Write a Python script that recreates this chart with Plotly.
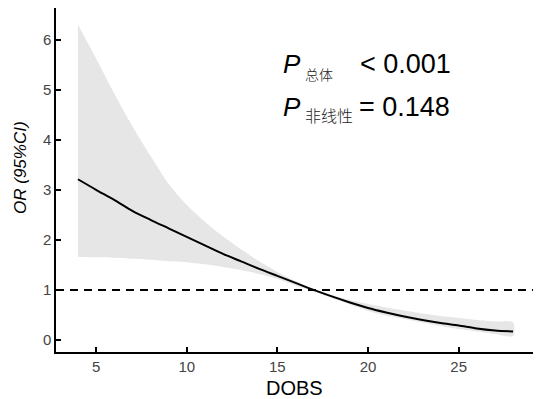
import plotly.graph_objects as go

dobs = [4, 5, 6, 7, 8, 9, 10, 11, 12, 13, 14, 15, 16, 17, 18, 19, 20, 21, 22, 23, 24, 25, 26, 27, 28]
or_est = [3.21, 3.00, 2.80, 2.58, 2.40, 2.23, 2.06, 1.89, 1.72, 1.57, 1.42, 1.28, 1.14, 1.00, 0.87, 0.75, 0.64, 0.55, 0.47, 0.40, 0.34, 0.29, 0.23, 0.19, 0.17]
ci_upper = [6.30, 5.62, 4.92, 4.27, 3.68, 3.12, 2.70, 2.36, 2.07, 1.81, 1.57, 1.36, 1.18, 1.02, 0.90, 0.80, 0.72, 0.65, 0.59, 0.53, 0.48, 0.44, 0.40, 0.37, 0.35]
ci_lower = [1.66, 1.65, 1.64, 1.62, 1.60, 1.57, 1.55, 1.51, 1.46, 1.40, 1.32, 1.22, 1.09, 0.97, 0.84, 0.71, 0.58, 0.49, 0.42, 0.35, 0.28, 0.22, 0.17, 0.12, 0.08]
ref_or = 1
x_ticks = [5, 10, 15, 20, 25]
y_ticks = [0, 1, 2, 3, 4, 5, 6]

FONT = "Liberation Sans, Arial, sans-serif"
CJK = "Noto Sans CJK SC"

fig = go.Figure()
fig.add_trace(go.Scatter(x=dobs + dobs[::-1], y=ci_upper + ci_lower[::-1], fill="toself",
                         fillcolor="#e6e6e6", line=dict(width=0, shape="spline", smoothing=0.8),
                         mode="lines", hoverinfo="skip", showlegend=False))
fig.add_trace(go.Scatter(x=dobs, y=or_est, mode="lines",
                         line=dict(color="black", width=2, shape="spline", smoothing=0.8),
                         showlegend=False))
fig.add_hline(y=ref_or, line=dict(color="black", width=2, dash="8px,6px"))

# page body has an 8px margin: the figure is drawn 8px right/down of the window corner
OFF = 8
W, H = 543 - OFF, 399 - OFF
L, R, T, B = 56 - OFF, 10, 8 - OFF, 47
pw, ph = W - L - R, H - T - B


def px(xp):
    return (xp - OFF - L) / pw


def py(yp):
    return (H - B - (yp - OFF)) / ph


def ann(text, x, y, size, family=FONT, italic=False, color="#000000", weight=None, xanchor="left", angle=0):
    f = dict(size=size, family=family, color=color)
    if weight:
        f["weight"] = weight
    fig.add_annotation(text=f"<i>{text}</i>" if italic else text, xref="paper", yref="paper",
                       x=px(x), y=py(y), xanchor=xanchor, yanchor="middle", showarrow=False,
                       font=f, borderpad=0, textangle=angle)


ann("P", 282, 64, 26, italic=True)
ann("总体", 304, 74, 14, family=CJK, color="#222222", weight=300)
ann("< 0.001", 359, 64, 27)
ann("P", 282, 107, 26, italic=True)
ann("非线性", 304, 115, 16, family=CJK, color="#222222", weight=300)
ann("= 0.148", 358, 107, 27)
ann("OR (95%CI)", 20, 168, 17, italic=True, xanchor="center", angle=-90)
ann("DOBS", 294, 388, 20, xanchor="center")

fig.update_layout(
    width=W, height=H, margin=dict(l=L, r=R, t=T, b=B, autoexpand=False),
    paper_bgcolor="white", plot_bgcolor="white",
    font=dict(family=FONT, color="#333333"),
    xaxis=dict(range=[2.79, 29.1], tickvals=x_ticks, ticks="inside", ticklen=5, tickwidth=1.5,
               tickcolor="black", showline=True, linecolor="black", linewidth=1.5,
               showgrid=False, zeroline=False, tickfont=dict(size=15, color="#444444"),
               automargin=False),
    yaxis=dict(range=[-0.24, 6.63], tickvals=y_ticks, ticks="inside", ticklen=5, tickwidth=1.5,
               tickcolor="black", showline=True, linecolor="black", linewidth=1.5,
               showgrid=False, zeroline=False, tickfont=dict(size=15, color="#444444"),
               automargin=False),
)

fig.write_html("out.html")
